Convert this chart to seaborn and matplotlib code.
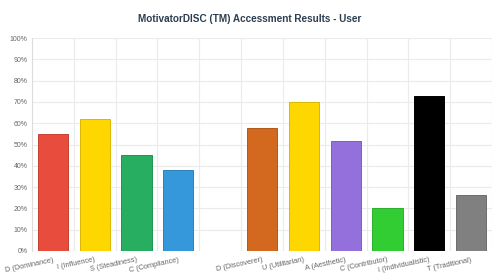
import matplotlib
matplotlib.use("Agg")
import pandas as pd
import seaborn as sns
import matplotlib.pyplot as plt
from matplotlib.ticker import FixedLocator, PercentFormatter

sns.set_style("white")
plt.rcParams["font.family"] = ["Liberation Sans", "DejaVu Sans"]

categories = ["D (Dominance)", "I (Influence)", "S (Steadiness)", "C (Compliance)", "",
              "D (Discoverer)", "U (Utilitarian)", "A (Aesthetic)", "C (Contributor)",
              "I (Individualistic)", "T (Traditional)"]
scores = [55, 62, 45, 38, 0, 58, 70, 51.5, 20, 73, 26.5]
colors = ["#e74c3c", "#ffd700", "#27ae60", "#3498db", "#ffffff",
          "#d2691e", "#ffd700", "#9370db", "#32cd32", "#000000", "#808080"]

data = pd.DataFrame({"category": categories, "score": scores})

fig = plt.figure(figsize=(5, 2.74), dpi=100)
ax = fig.add_axes([0.064, 0.084, 0.92, 0.777])

sns.barplot(
    data=data,
    x="category",
    y="score",
    hue="category",
    palette=dict(zip(categories, colors)),
    saturation=1,
    width=0.72,
    legend=False,
    ax=ax,
)
# thin, slightly darker outline like the original
for patch, c in zip(ax.patches, colors):
    if c == "#ffffff":
        patch.set_edgecolor("none")
        continue
    r, g, b = matplotlib.colors.to_rgb(c)
    patch.set_edgecolor((r * 0.85, g * 0.85, b * 0.85))
    patch.set_linewidth(0.7)

ax.set_ylim(0, 100)
ax.set_xlim(-0.5, len(categories) - 0.5)
ax.yaxis.set_major_locator(FixedLocator(range(0, 101, 10)))
ax.yaxis.set_major_formatter(PercentFormatter(decimals=0))
ax.xaxis.set_minor_locator(FixedLocator([i - 0.5 for i in range(len(categories) + 1)]))
ax.grid(True, axis="y", which="major", color="#ebebeb", linewidth=0.8)
ax.grid(True, axis="x", which="minor", color="#ebebeb", linewidth=0.8)
ax.set_axisbelow(True)
for side in ["top", "right", "bottom"]:
    ax.spines[side].set_visible(False)
ax.spines["left"].set_color("#dddddd")
ax.spines["left"].set_linewidth(0.8)

ax.tick_params(axis="y", labelsize=5, colors="#666666", length=0, pad=3)
ax.tick_params(axis="x", which="major", labelsize=5.3, colors="#666666", length=0, pad=4)
ax.tick_params(axis="x", which="minor", length=3, color="#ebebeb")
plt.setp(ax.get_xticklabels(), rotation=12, ha="right", rotation_mode="anchor")

ax.set_xlabel(None)
ax.set_ylabel(None)
fig.suptitle(
    "MotivatorDISC (TM) Accessment Results - User",
    y=0.93,
    va="center",
    fontsize=7.2,
    fontweight="bold",
    color="#2c3e50",
)
plt.savefig("out.png", dpi=100)
